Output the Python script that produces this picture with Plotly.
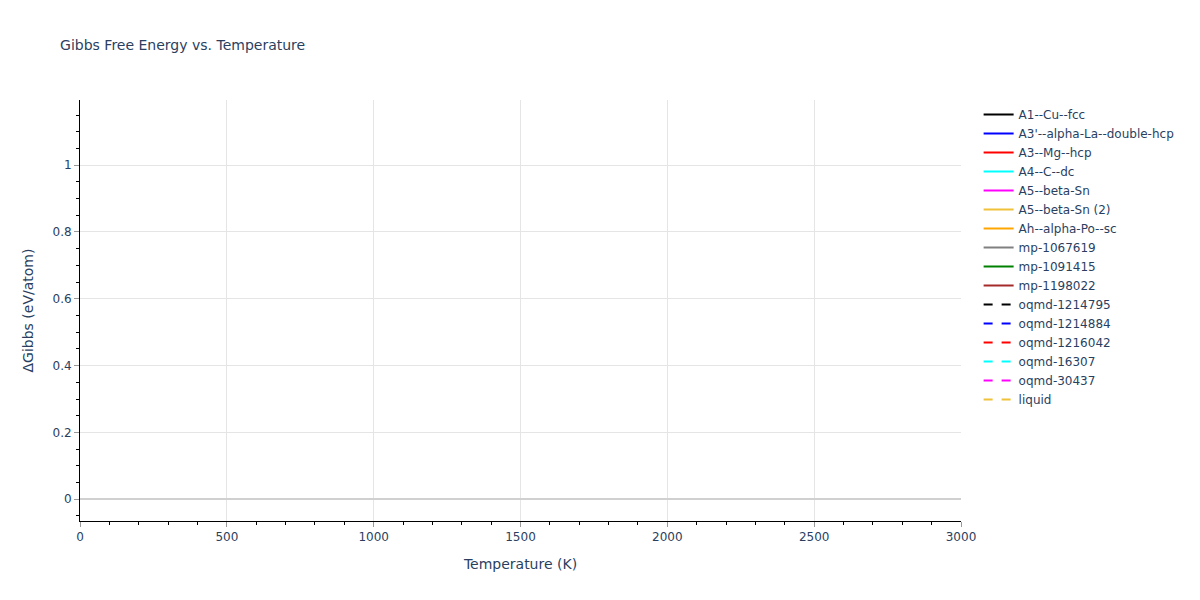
import plotly.graph_objects as go

# phases shown in the legend (the reference draws no visible points)
phase_names = [
    "A1--Cu--fcc",
    "A3'--alpha-La--double-hcp",
    "A3--Mg--hcp",
    "A4--C--dc",
    "A5--beta-Sn",
    "A5--beta-Sn (2)",
    "Ah--alpha-Po--sc",
    "mp-1067619",
    "mp-1091415",
    "mp-1198022",
    "oqmd-1214795",
    "oqmd-1214884",
    "oqmd-1216042",
    "oqmd-16307",
    "oqmd-30437",
    "liquid",
]
temperatures = [None]
delta_gibbs = {name: [None] for name in phase_names}

colors = [
    "black", "blue", "red", "cyan", "magenta", "#f0c23a", "orange",
    "gray", "green", "brown",
    "black", "blue", "red", "cyan", "magenta", "#f0c23a",
]
dashes = ["solid"] * 10 + ["dash"] * 6

fig = go.Figure()
for name, color, dash in zip(phase_names, colors, dashes):
    fig.add_trace(
        go.Scatter(
            x=temperatures,
            y=delta_gibbs[name],
            mode="lines",
            name=name,
            showlegend=True,
            line=dict(color=color, dash=dash),
        )
    )

axis_style = dict(
    showline=True,
    linecolor="black",
    ticks="outside",
    tickcolor="#999",
    gridcolor="#e5e5e5",
    zeroline=True,
    zerolinecolor="#d0d0d0",
    zerolinewidth=2,
    title_font_size=14,
    tickfont_size=12,
)

fig.update_layout(
    title=dict(
        text="Gibbs Free Energy vs. Temperature",
        font_size=14,
        x=0.044,
        y=0.937,
        yanchor="middle",
    ),
    font=dict(family="DejaVu Sans, Verdana, sans-serif", size=12, color="#2a3f5f"),
    plot_bgcolor="white",
    paper_bgcolor="white",
    showlegend=True,
    margin=dict(l=72, r=227, t=92, b=71),
)
fig.update_xaxes(
    title="Temperature (K)",
    range=[0, 3000],
    dtick=500,
    minor=dict(ticks="outside", dtick=100, tickcolor="black"),
    **axis_style,
)
fig.update_yaxes(
    title="ΔGibbs (eV/atom)",
    range=[-0.065, 1.195],
    dtick=0.2,
    minor=dict(ticks="outside", dtick=0.05, tickcolor="black", showgrid=False),
    **axis_style,
)

fig.write_html("out.html")
